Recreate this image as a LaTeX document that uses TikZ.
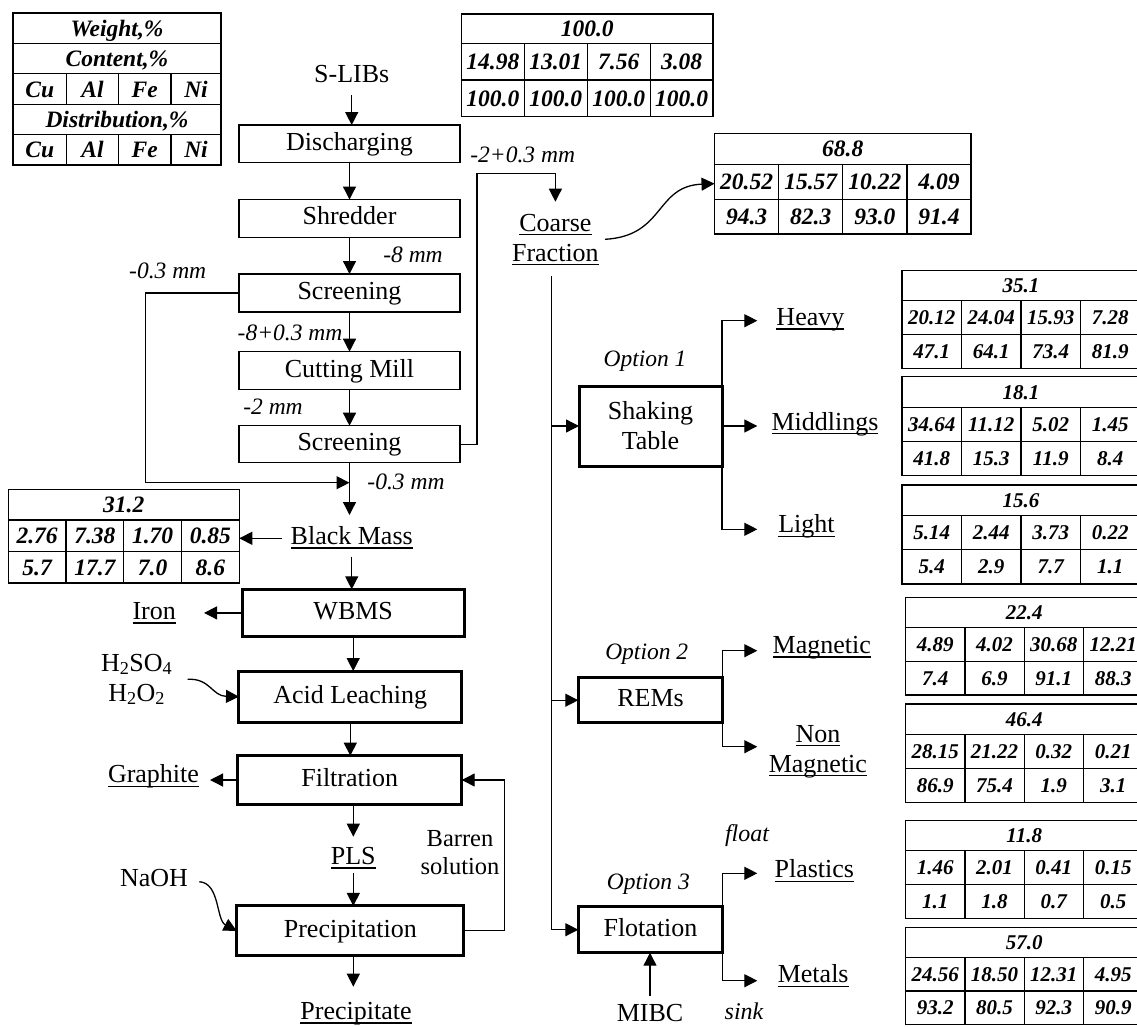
\documentclass[tikz,border=0pt]{standalone}
\usepackage{fontspec}
\setmainfont{Liberation Serif}
\usetikzlibrary{arrows.meta,calc}
\newcommand\ulx[1]{\setbox0=\hbox{#1}\rlap{\rule[-4.4pt]{\wd0}{1.5pt}}\box0}
\def\tfs{\fontsize{23.5}{26}\selectfont}
\def\tsh{8}
\tikzset{
  every node/.style={inner sep=0pt, outer sep=0pt},
  bbase/.style={draw, line width=1.4pt, font=\fontsize{26}{30}\selectfont},
  box/.style={bbase, text height=18.5pt, text depth=5.5pt},
  tbox/.style={box, line width=3pt},
  lab/.style={font=\fontsize{26}{30}\selectfont, text height=18pt, text depth=6pt},
  ital/.style={font=\fontsize{23.5}{26}\selectfont\itshape, text height=16.5pt, text depth=5pt},
  arr/.style={line width=1.3pt, -{Triangle[length=13pt,width=13pt]}},
  ln/.style={line width=1.3pt},
  tframe/.style={draw, line width=1.3pt},
  tline/.style={line width=1.3pt},
  tnum/.style={anchor=base, font=\tfs\bfseries\itshape},
}
\newcommand\dtab[9]{%
  \pgfmathsetmacro\tw{#4/4}%
  \pgfmathsetmacro\tabh{#5+2*#6}%
  \node[tframe, minimum width=#4, minimum height=\tabh, anchor=north west] (#1) at (#2,#3) {};%
  \draw[tline] (#2,#3+#5) -- ++(#4,0) (#2,#3+#5+#6) -- ++(#4,0);%
  \foreach \k in {1,2,3} {\draw[tline] (#2+\k*\tw,#3+#5) -- ++(0,2*#6);}%
  \node[tnum] (#1-t) at (#2+#4/2,#3+#5/2+\tsh) {#7};%
  \foreach[count=\k] \v in {#8} {\node[tnum] (#1-a\k) at (#2+\k*\tw-\tw/2,#3+#5+#6/2+\tsh) {\v};}%
  \foreach[count=\k] \v in {#9} {\node[tnum] (#1-b\k) at (#2+\k*\tw-\tw/2,#3+#5+1.5*#6+\tsh) {\v};}%
}
\begin{document}
\begin{tikzpicture}[x=1pt,y=-1pt]
\useasboundingbox (0,0) rectangle (1137,1026);
\clip (0,0) rectangle (1137,1026);

% ---------- legend ----------
\node[tframe, minimum width=208, minimum height=152, anchor=north west] (legend) at (13,13) {};
\draw[tline] (13,43.4) -- (221,43.4) (13,73.8) -- (221,73.8) (13,104.2) -- (221,104.2) (13,134.6) -- (221,134.6);
\foreach \c in {66.7,118.3,171} {\draw[tline] (\c,73.8) -- (\c,104.2) (\c,134.6) -- (\c,165);}
\node[tnum] (lg-w) at (117,28.2+\tsh) {Weight,\%};
\node[tnum] (lg-c) at (117,58.6+\tsh) {Content,\%};
\node[tnum] (lg-d) at (117,119.4+\tsh) {Distribution,\%};
\foreach[count=\k] \x/\e in {39.85/Cu,92.5/Al,144.65/Fe,196/Ni} {
  \node[tnum] (lg-a\k) at (\x,89+\tsh) {\e};
  \node[tnum] (lg-b\k) at (\x,149.8+\tsh) {\e};
}

% ---------- tables ----------
\dtab{t100}{461.4}{14}{251.7}{29.3}{36.7}{100.0}{14.98,13.01,7.56,3.08}{100.0,100.0,100.0,100.0}
\dtab{t68}{714.5}{133.3}{256.6}{31}{34.85}{68.8}{20.52,15.57,10.22,4.09}{94.3,82.3,93.0,91.4}
\dtab{t31}{8.3}{489.3}{231}{30.7}{31.5}{31.2}{2.76,7.38,1.70,0.85}{5.7,17.7,7.0,8.6}
\def\tfs{\fontsize{21}{24}\selectfont}
\def\tsh{7.1}
\dtab{t35}{902}{270.7}{238}{30}{33.8}{35.1}{20.12,24.04,15.93,7.28}{47.1,64.1,73.4,81.9}
\dtab{t18}{902}{376.7}{238}{30.6}{34.2}{18.1}{34.64,11.12,5.02,1.45}{41.8,15.3,11.9,8.4}
\dtab{t15}{902}{485}{238}{30.7}{34.1}{15.6}{5.14,2.44,3.73,0.22}{5.4,2.9,7.7,1.1}
\dtab{t22}{905.6}{597.3}{237.2}{30.4}{33.7}{22.4}{4.89,4.02,30.68,12.21}{7.4,6.9,91.1,88.3}
\dtab{t46}{905.6}{704}{237.2}{30.3}{34.1}{46.4}{28.15,21.22,0.32,0.21}{86.9,75.4,1.9,3.1}
\dtab{t11}{905.6}{820.7}{237.2}{30}{33.8}{11.8}{1.46,2.01,0.41,0.15}{1.1,1.8,0.7,0.5}
\dtab{t57}{905.6}{927.3}{237.2}{30}{33.6}{57.0}{24.56,18.50,12.31,4.95}{93.2,80.5,92.3,90.9}

% ---------- main column ----------
\node[lab] (slibs) at (351.7,76) {S-LIBs};
\node[box, minimum width=221, minimum height=37.7] (disch) at (349.5,143.9) {Discharging};
\node[box, minimum width=221, minimum height=37.8] (shred) at (349.5,218.4) {Shredder};
\node[box, minimum width=221, minimum height=38] (scr1) at (349.5,293) {Screening};
\node[box, minimum width=221, minimum height=37.6] (mill) at (349.5,370.5) {Cutting Mill};
\node[box, minimum width=221, minimum height=37] (scr2) at (349.5,444.2) {Screening};
\node[lab] (bm) at (351.7,538.3) {\ulx{Black Mass}};
\node[tbox, minimum width=221.7, minimum height=47.2] (wbms) at (353.2,612.9) {WBMS};
\node[tbox, minimum width=222.7, minimum height=51.3] (acid) at (350.3,696.7) {Acid Leaching};
\node[tbox, minimum width=224, minimum height=48.6] (filt) at (349.7,780) {Filtration};
\node[lab] (pls) at (353.3,858.3) {\ulx{PLS}};
\node[tbox, minimum width=227.3, minimum height=49.7] (prec) at (350.3,930.8) {Precipitation};
\node[lab] (ptext) at (356,1013.3) {\ulx{Precipitate}};

\node[lab] (iron) at (154.2,613.3) {\ulx{Iron}};
\node[lab] (graph) at (153.5,776.7) {\ulx{Graphite}};
\node[lab] (h2so4) at (136.7,665) {H\textsubscript{2}SO\textsubscript{4}};
\node[lab] (h2o2) at (136.7,695) {H\textsubscript{2}O\textsubscript{2}};
\node[lab] (naoh) at (154,880) {NaOH};
\node[lab, font=\fontsize{24.5}{28}\selectfont] (barren1) at (460,840) {Barren};
\node[lab, font=\fontsize{24.5}{28}\selectfont] (barren2) at (460,868.3) {solution};

% size labels
\node[ital] (l8) at (413,257) {-8 mm};
\node[ital] (l03a) at (167.7,272.7) {-0.3 mm};
\node[ital] (l803) at (290,334.3) {-8+0.3 mm};
\node[ital] (l2) at (273,408.3) {-2 mm};
\node[ital] (l03b) at (406,484) {-0.3 mm};
\node[ital] (l203) at (522.7,156.7) {-2+0.3 mm};

% ---------- right part ----------
\node[lab] (cf1) at (555.4,225) {\ulx{Coarse}};
\node[lab] (cf2) at (555.4,255) {\ulx{Fraction}};
\node[bbase, line width=3pt, align=center, minimum width=143, minimum height=80] (shake) at (650.5,426) {Shaking\\Table};
\node[tbox, minimum width=144.5, minimum height=45] (rems) at (650.5,700.2) {REMs};
\node[tbox, minimum width=144.4, minimum height=46] (flot) at (650.5,929.7) {Flotation};
\node[ital] (op1) at (645,361) {Option 1};
\node[ital] (op2) at (646.7,653.3) {Option 2};
\node[ital] (op3) at (648.3,883.3) {Option 3};
\node[ital, font=\fontsize{24}{26}\selectfont\itshape] (float) at (747,835.5) {float};
\node[ital, font=\fontsize{24}{26}\selectfont\itshape] (sink) at (744,1013.3) {sink};
\node[lab] (mibc) at (650,1015) {MIBC};

\node[lab] (heavy) at (810.4,319.3) {\ulx{Heavy}};
\node[lab] (midd) at (825,424) {\ulx{Middlings}};
\node[lab] (light) at (806.5,526.7) {\ulx{Light}};
\node[lab] (magn) at (821.8,647.3) {\ulx{Magnetic}};
\node[lab] (nm1) at (817.9,736) {\ulx{Non}};
\node[lab] (nm2) at (817.9,766) {\ulx{Magnetic}};
\node[lab] (plast) at (814.3,871.7) {\ulx{Plastics}};
\node[lab] (metal) at (813.2,976.7) {\ulx{Metals}};

% coordinates for free ends
\coordinate (mrg) at (349.5,482.7);
\coordinate (hstart) at (187.7,679.3);
\coordinate (nstart) at (199.3,881.7);
\coordinate (cfe) at (605,239.3);
\coordinate (ttop) at (551.7,276);
\coordinate (hvT) at (757.3,320.7);
\coordinate (mdT) at (757.3,426);
\coordinate (ltT) at (757.3,529.3);
\coordinate (mgT) at (757.3,650.7);
\coordinate (nmT) at (757.3,746.7);
\coordinate (plT) at (757.3,873.3);
\coordinate (mtT) at (757.3,980.7);

% ---------- connectors ----------
\draw[arr, shorten <=7pt] (slibs.south) -- (slibs.south |- disch.north);
\draw[arr] (disch.south) -- (shred.north);
\draw[arr] (shred.south) -- (scr1.north);
\draw[arr] (scr1.south) -- (mill.north);
\draw[arr] (mill.south) -- (scr2.north);
\draw[arr, shorten >=11.3pt] (scr2.south) -- (scr2.south |- bm.north);
\draw[arr] (scr1.west) -- ++(-93.5,0) |- (mrg);
\draw[arr, shorten <=6.4pt] (bm.south) -- (bm.south |- wbms.north);
\draw[arr, shorten <=9pt] (bm.west) -- (bm.west -| t31.east);
\draw[arr] (wbms.west) -- ++(-38.3,0);
\draw[arr] (wbms.south) -- (wbms.south |- acid.north);
\draw[arr] (acid.south) -- (acid.south |- filt.north);
\draw[arr] (filt.west) -- ++(-27.7,0);
\draw[arr, shorten >=9.6pt] (filt.south -| pls) -- (pls.north);
\draw[arr, shorten <=3pt] (pls.south) -- (pls.south |- prec.north);
\draw[arr, shorten >=14.6pt] (prec.south -| pls) -- (ptext.north -| pls);
\draw[arr] (prec.east) -- ++(40.3,0) |- (filt.east);
\draw[arr] (hstart) .. controls (210,678) and (212,696) .. (acid.west);
\draw[arr] (nstart) .. controls (220,883) and (216,920) .. (prec.west);

\draw[arr, shorten >=11.3pt] (scr2.east) -- ++(16.9,0) |- ($(cf1.north)+(0,-39.7)$) -- (cf1.north);
\draw[arr] (cfe) .. controls (665,236) and (655,186) .. (t68.west);
\draw[arr] (ttop) |- (flot.west);
\draw[arr] (shake.west -| ttop) -- (shake.west);
\draw[arr] (rems.west -| ttop) -- (rems.west);

\draw[arr] (shake.north east) |- (hvT);
\draw[arr] (shake.east) -- (mdT);
\draw[arr] (shake.south east) |- (ltT);
\draw[arr] (rems.north east) |- (mgT);
\draw[arr] (rems.south east) |- (nmT);
\draw[arr] (flot.north east) |- (plT);
\draw[arr] (flot.south east) |- (mtT);
\draw[arr] ([yshift=7pt]mibc.north) -- (mibc.north |- flot.south);
\end{tikzpicture}
\end{document}
